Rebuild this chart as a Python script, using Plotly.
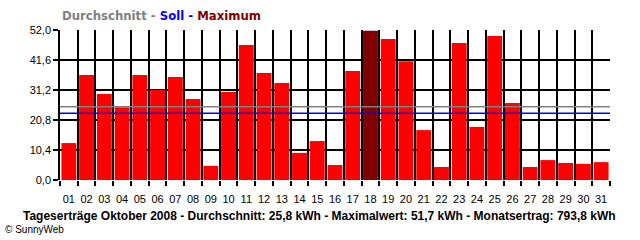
import plotly.graph_objects as go

days = ["01","02","03","04","05","06","07","08","09","10","11","12","13","14","15","16",
        "17","18","19","20","21","22","23","24","25","26","27","28","29","30","31"]
yields = [12.8, 36.4, 29.8, 25.2, 36.4, 31.2, 35.7, 28.1, 4.9, 30.5, 46.8, 37.1, 33.6, 9.4,
          13.5, 5.2, 37.8, 51.7, 48.9, 41.2, 17.3, 4.5, 47.5, 18.4, 49.9, 26.7, 4.5, 6.9,
          5.9, 5.6, 6.2]
avg_line = 25.4
soll_line = 23.1
y_ticks = [0.0, 10.4, 20.8, 31.2, 41.6, 52.0]

xs = list(range(1, len(days) + 1))
max_val = max(yields)
colors = ["#800000" if v == max_val else "#FF0000" for v in yields]

fig = go.Figure()
fig.add_trace(go.Bar(x=xs, y=yields, marker=dict(color=colors, line=dict(width=0)),
                     hoverinfo="skip"))

fig.add_shape(type="line", xref="paper", x0=0, x1=1, yref="y", y0=avg_line, y1=avg_line,
              line=dict(color="#808080", width=1.5), layer="above")
fig.add_shape(type="line", xref="paper", x0=0, x1=1, yref="y", y0=soll_line, y1=soll_line,
              line=dict(color="#0000FF", width=1.5), layer="above")

font = "Liberation Sans, Arial, sans-serif"
bold_font = "DejaVu Sans, Verdana, sans-serif"

fig.update_layout(
    width=640, height=240,
    margin=dict(l=60, r=30, t=30, b=60),
    paper_bgcolor="white", plot_bgcolor="white",
    separators=",.",
    bargap=0.16,
    showlegend=False,
    font=dict(family=font, size=11, color="black"),
    xaxis=dict(
        range=[0.5, len(days) + 0.5],
        tickmode="array", tickvals=xs, ticktext=days,
        ticks="outside", ticklen=9, tickcolor="rgba(0,0,0,0)",
        showgrid=False, zeroline=False, showline=False,
        tickfont=dict(size=11),
        minor=dict(tickmode="linear", tick0=0.5, dtick=1, showgrid=True,
                   gridcolor="black", gridwidth=1.5, ticks="outside", ticklen=5,
                   tickcolor="black", tickwidth=1.5),
    ),
    yaxis=dict(
        range=[0, 52], tickmode="array", tickvals=y_ticks, tickformat=".1f",
        showgrid=True, gridcolor="black", gridwidth=1.5,
        ticks="outside", ticklen=5, tickcolor="black", tickwidth=1.5,
        showline=True, linecolor="black", linewidth=1.5,
        zeroline=False, tickfont=dict(size=11),
    ),
)

fig.add_annotation(
    xref="paper", yref="paper", x=0, y=1.093, xanchor="left", yanchor="middle",
    showarrow=False,
    text="<b><span style='color:#808080'>Durchschnitt - </span>"
         "<span style='color:#0000FF'>Soll - </span>"
         "<span style='color:#800000'>Maximum</span></b>",
    font=dict(family=bold_font, size=11.7),
)
fig.add_annotation(
    xref="paper", yref="paper", x=0.472, y=-0.24, xanchor="center", yanchor="middle",
    showarrow=False,
    text="<b>Tageserträge Oktober 2008 - Durchschnitt: 25,8 kWh - Maximalwert: 51,7 kWh - Monatsertrag: 793,8 kWh</b>",
    font=dict(family=font, size=12, color="black"),
)
fig.add_annotation(
    xref="paper", yref="paper", x=-0.1036, y=-0.333, xanchor="left", yanchor="middle",
    showarrow=False, text="© SunnyWeb",
    font=dict(family=font, size=10, color="black"),
)

fig.write_html("out.html")
